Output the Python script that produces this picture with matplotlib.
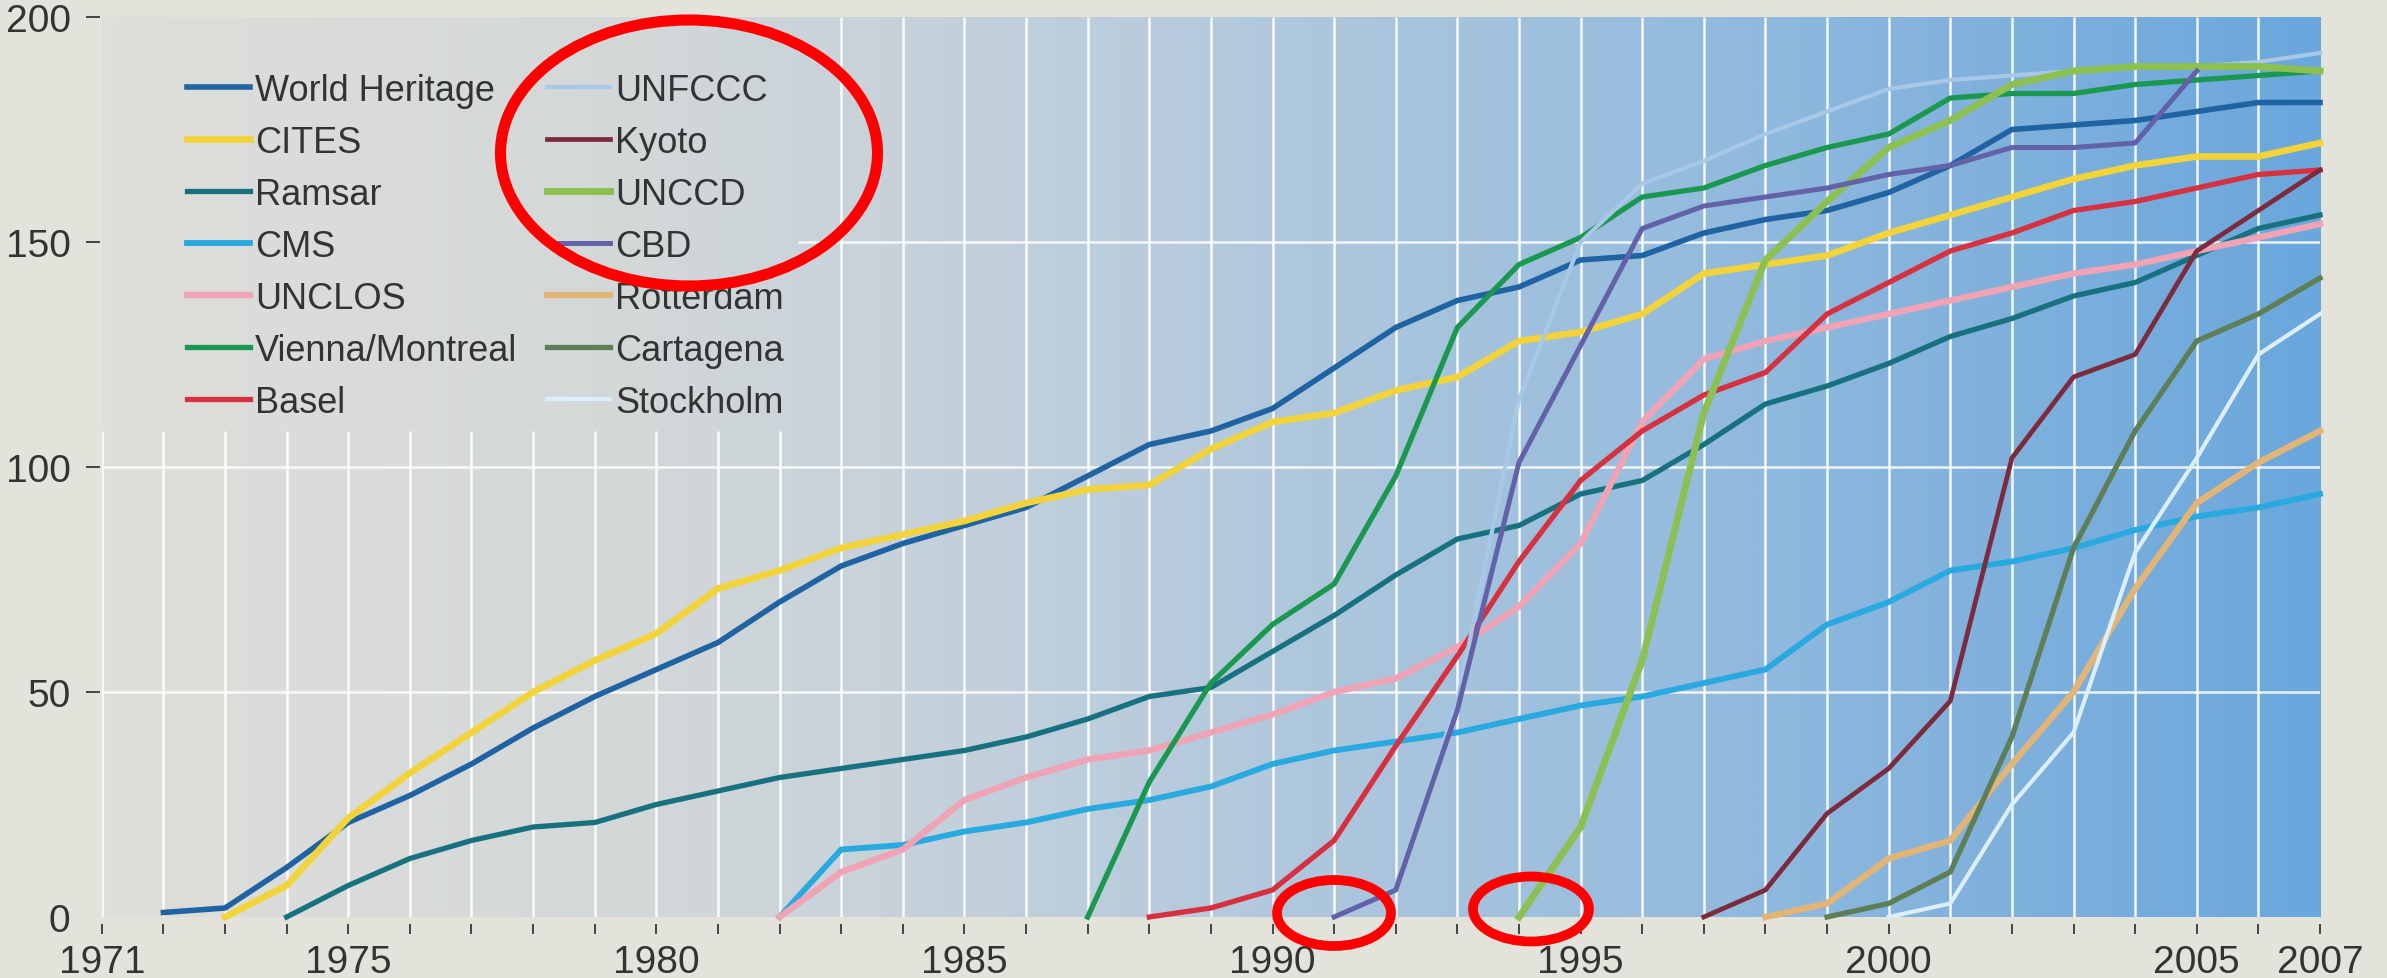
import numpy as np
import matplotlib
matplotlib.use('Agg')
import matplotlib.pyplot as plt
from matplotlib import font_manager
from matplotlib.colors import LinearSegmentedColormap
from matplotlib.patches import Ellipse

names = {f.name for f in font_manager.fontManager.ttflist}
fam = 'Liberation Sans' if 'Liberation Sans' in names else 'DejaVu Sans'
plt.rcParams['font.family'] = [fam, 'DejaVu Sans']

# number of parties per convention, by year
wh_years = list(range(1972, 2008))
wh = [1, 2, 11, 21, 27, 34, 42, 49, 55, 61, 70, 78, 83, 87, 91, 98, 105, 108, 113, 122,
      131, 137, 140, 146, 147, 152, 155, 157, 161, 167, 175, 176, 177, 179, 181, 181]
cites_years = list(range(1973, 2008))
cites = [0, 7, 22, 32, 41, 50, 57, 63, 73, 77, 82, 85, 88, 92, 95, 96, 104, 110, 112, 117,
         120, 128, 130, 134, 143, 145, 147, 152, 156, 160, 164, 167, 169, 169, 172]
ramsar_years = list(range(1974, 2008))
ramsar = [0, 7, 13, 17, 20, 21, 25, 28, 31, 33, 35, 37, 40, 44, 49, 51, 59, 67, 76, 84,
          87, 94, 97, 105, 114, 118, 123, 129, 133, 138, 141, 147, 153, 156]
cms_years = list(range(1982, 2008))
cms = [0, 15, 16, 19, 21, 24, 26, 29, 34, 37, 39, 41, 44, 47, 49, 52, 55, 65, 70, 77,
       79, 82, 86, 89, 91, 94]
unclos_years = list(range(1982, 2008))
unclos = [0, 10, 15, 26, 31, 35, 37, 41, 45, 50, 53, 60, 69, 83, 110, 124, 128, 131, 134,
          137, 140, 143, 145, 148, 151, 154]
vienna_years = list(range(1987, 2008))
vienna = [0, 30, 52, 65, 74, 98, 131, 145, 151, 160, 162, 167, 171, 174, 182, 183, 183,
          185, 186, 187, 188]
basel_years = list(range(1988, 2008))
basel = [0, 2, 6, 17, 38, 58, 79, 97, 108, 116, 121, 134, 141, 148, 152, 157, 159, 162,
         165, 166]
unfccc_years = list(range(1991, 2008))
unfccc = [0, 7, 48, 115, 150, 163, 168, 174, 179, 184, 186, 187, 188, 189, 189, 190, 192]
kyoto_years = list(range(1997, 2008))
kyoto = [0, 6, 23, 33, 48, 102, 120, 125, 148, 157, 166]
unccd_years = list(range(1994, 2008))
unccd = [0, 20, 57, 112, 146, 159, 171, 177, 185, 188, 189, 189, 189, 188]
cbd_years = list(range(1991, 2006))
cbd = [0, 6, 46, 101, 127, 153, 158, 160, 162, 165, 167, 171, 171, 172, 188]
rotterdam_years = list(range(1998, 2008))
rotterdam = [0, 3, 13, 17, 34, 50, 73, 92, 101, 108]
cartagena_years = list(range(1999, 2008))
cartagena = [0, 3, 10, 40, 82, 108, 128, 134, 142]
stockholm_years = list(range(2000, 2008))
stockholm = [0, 3, 25, 41, 81, 102, 125, 134]

series = [
    ('World Heritage', wh_years, wh, '#1f63a3', 4.0),
    ('CITES', cites_years, cites, '#f2d43a', 4.8),
    ('Ramsar', ramsar_years, ramsar, '#17717f', 3.8),
    ('CMS', cms_years, cms, '#28a9df', 4.2),
    ('UNCLOS', unclos_years, unclos, '#f0a3b4', 4.6),
    ('Vienna/Montreal', vienna_years, vienna, '#1a9850', 3.8),
    ('Basel', basel_years, basel, '#d7303f', 3.8),
    ('UNFCCC', unfccc_years, unfccc, '#a8c8e8', 3.0),
    ('Kyoto', kyoto_years, kyoto, '#7d2a3c', 3.4),
    ('UNCCD', unccd_years, unccd, '#8cc152', 5.0),
    ('CBD', cbd_years, cbd, '#6361a8', 3.6),
    ('Rotterdam', rotterdam_years, rotterdam, '#e2b577', 4.6),
    ('Cartagena', cartagena_years, cartagena, '#5e7e58', 3.8),
    ('Stockholm', stockholm_years, stockholm, '#dceefa', 3.0),
]

x_labels = {1971: '1971', 1975: '1975', 1980: '1980', 1985: '1985', 1990: '1990',
            1995: '1995', 2000: '2000', 2005: '2005', 2007: '2007'}

W, H = 2387, 979
fig = plt.figure(figsize=(W / 100, H / 100), dpi=100)
fig.patch.set_facecolor('#e4e3db')
ax = fig.add_axes([101.8 / W, 61 / H, (2320 - 101.8) / W, 900 / H])
ax.set_xlim(1971, 2007)
ax.set_ylim(0, 200)

# background gradient, grey on the left to blue on the right
cmap = LinearSegmentedColormap.from_list('bg', [
    (0.0, (222/255, 223/255, 218/255)),
    (0.25, (210/255, 215/255, 216/255)),
    (0.45, (188/255, 205/255, 220/255)),
    (0.67, (156/255, 191/255, 221/255)),
    (0.8, (136/255, 181/255, 221/255)),
    (1.0, (106/255, 167/255, 220/255)),
])
ax.imshow(np.linspace(0, 1, 512)[None, :], cmap=cmap, extent=(1971, 2007, 0, 200),
          aspect='auto', zorder=0, interpolation='bilinear')

# grid, kept out of the legend box
years = np.arange(1971, 2007)
tops = np.where(years < 1983, 108, 200)
ax.vlines(years, 0, tops, colors='white', lw=1.8, alpha=0.9, zorder=1)
ax.hlines([50, 100], 1971, 2007, colors='white', lw=1.8, alpha=0.85, zorder=1)
ax.hlines([150], 1982.3, 2007, colors='white', lw=1.8, alpha=0.85, zorder=1)

for name, xs, ys, col, lw in series:
    ax.plot(xs, ys, color=col, lw=lw, label=name, zorder=3, clip_on=False,
            solid_joinstyle='round')

for s in ax.spines.values():
    s.set_visible(False)
ax.spines['bottom'].set_position(('outward', 5))
ax.spines['left'].set_position(('outward', 1.5))

ax.set_xticks(range(1971, 2008))
ax.set_xticklabels([x_labels.get(y, '') for y in range(1971, 2008)])
ax.set_yticks([0, 50, 100, 150, 200])
ax.tick_params(axis='x', direction='out', length=7.2, width=1.4, color='#444444',
               pad=7, labelsize=28, labelcolor='#333333')
ax.tick_params(axis='y', direction='out', length=10, width=1.4, color='#444444',
               pad=11, labelsize=28, labelcolor='#333333')
ax.yaxis.get_major_ticks()[0].tick1line.set_visible(False)

leg = ax.legend(ncol=2, loc='upper left', bbox_to_anchor=(187 / W, 1 - 74 / H),
                bbox_transform=fig.transFigure, frameon=False, fontsize=26,
                handlelength=1.74, handletextpad=0.14, columnspacing=0.83,
                labelspacing=0.47, borderpad=0, borderaxespad=0)
for t in leg.get_texts():
    t.set_color('#333333')

# red highlight rings
rings = [(689, 154, 377, 266, 8), (1334, 914, 114, 66, 7), (1531, 910, 116, 65, 7)]
for cx, cy, w, h, lw in rings:
    fig.add_artist(Ellipse((cx / W, 1 - cy / H), w / W, h / H, transform=fig.transFigure,
                           fill=False, edgecolor='#ff0000', lw=lw, zorder=10))

fig.savefig('out.png', dpi=100, facecolor=fig.get_facecolor())
